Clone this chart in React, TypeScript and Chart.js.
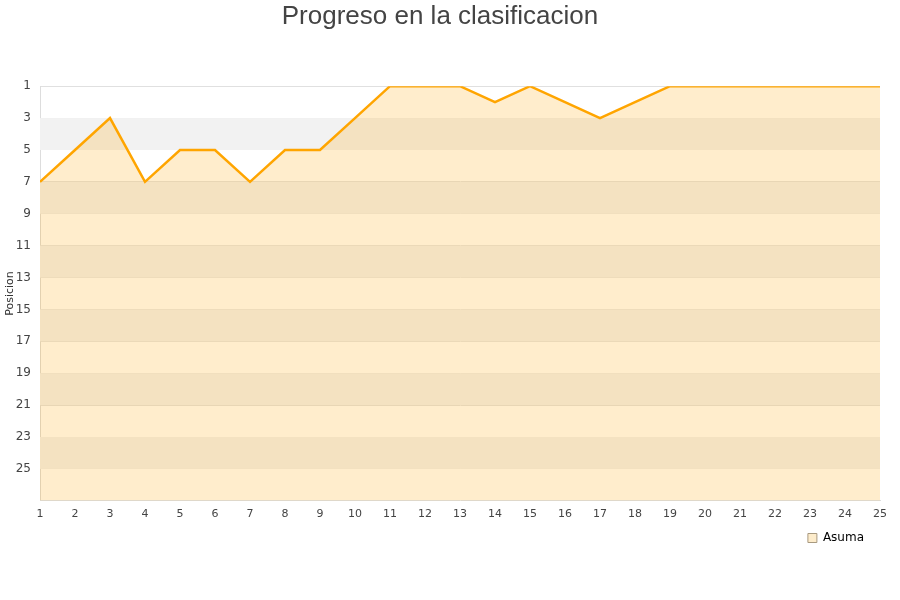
import React, { useEffect, useRef } from "react";
import { Chart, registerables } from "chart.js";

Chart.register(...registerables);

const rounds = [1, 2, 3, 4, 5, 6, 7, 8, 9, 10, 11, 12, 13, 14, 15, 16, 17, 18, 19, 20, 21, 22, 23, 24, 25];
const positions = [7, 5, 3, 7, 5, 5, 7, 5, 5, 3, 1, 1, 1, 2, 1, 2, 3, 2, 1, 1, 1, 1, 1, 1, 1];
const yMin = 1;
const yMax = 27;
const yTicks = [1, 3, 5, 7, 9, 11, 13, 15, 17, 19, 21, 23, 25];
const seriesName = "Asuma";
const titleText = "Progreso en la clasificacion";
const yTitle = "Posicion";

const bandPlugin = {
  id: "bands",
  beforeDatasetsDraw(chart: any) {
    const { ctx, chartArea, scales } = chart;
    const y = scales.y;
    ctx.save();
    ctx.fillStyle = "#f2f2f2";
    for (let i = 1; i < yTicks.length; i += 2) {
      const a = y.getPixelForValue(yTicks[i]);
      const b = y.getPixelForValue(yTicks[i + 1] ?? yMax);
      ctx.fillRect(chartArea.left, a, chartArea.right - chartArea.left, b - a);
    }
    ctx.restore();
  },
};

const legendShift = {
  id: "legendShift",
  afterLayout(chart: any) {
    const lg = chart.legend;
    if (lg) {
      lg.left -= 12;
      lg.right -= 12;
    }
  },
};

export default function App() {
  const ref = useRef<HTMLCanvasElement>(null);
  useEffect(() => {
    if (!ref.current) return;
    const chart = new Chart(ref.current, {
      type: "line",
      data: {
        datasets: [
          {
            label: seriesName,
            data: rounds.map((r, i) => ({ x: r, y: positions[i] })),
            borderColor: "#ffa500",
            backgroundColor: "rgba(255,165,0,0.2)",
            borderWidth: 2.5,
            pointRadius: 0,
            tension: 0,
            fill: "start",
          },
        ],
      },
      plugins: [bandPlugin, legendShift],
      options: {
        animation: false,
        responsive: true,
        maintainAspectRatio: false,
        events: [],
        layout: { padding: { left: 0, right: 20, top: 0, bottom: 46 } },
        plugins: {
          title: {
            display: true,
            text: titleText,
            color: "#444",
            font: { family: "Liberation Sans", size: 26, weight: "normal" },
            padding: { top: 1, bottom: 54 },
          },
          legend: {
            position: "bottom",
            align: "end",
            labels: {
              boxWidth: 9,
              boxHeight: 9,
              padding: 4,
              color: "#111",
              font: { family: "DejaVu Sans", size: 12 },
              generateLabels: () => [
                {
                  text: seriesName,
                  fillStyle: "#fdeccb",
                  strokeStyle: "#a89a80",
                  lineWidth: 1,
                  datasetIndex: 0,
                },
              ],
            },
          },
          tooltip: { enabled: false },
        },
        scales: {
          x: {
            type: "linear",
            min: 1,
            max: 25,
            grid: { display: false, drawTicks: false },
            border: { color: "#ddd" },
            ticks: {
              stepSize: 1,
              color: "#444",
              padding: 7,
              font: { family: "DejaVu Sans", size: 11 },
            },
          },
          y: {
            reverse: true,
            min: yMin,
            max: yMax,
            afterBuildTicks: (s: any) => {
              s.ticks = yTicks.map((v) => ({ value: v }));
            },
            afterFit: (s: any) => {
              s.width = 40;
            },
            grid: { color: "#e0e0e0", drawTicks: false },
            border: { color: "#ddd" },
            ticks: {
              color: "#444",
              padding: 9,
              font: { family: "DejaVu Sans", size: 12 },
            },
            title: {
              display: true,
              text: yTitle,
              color: "#333",
              font: { family: "DejaVu Sans", size: 11 },
              padding: { top: 4, bottom: 0 },
            },
          },
        },
      },
    });
    return () => chart.destroy();
  }, []);
  return (
    <div style={{ position: "absolute", left: 0, top: 0, width: 900, height: 600 }}>
      <canvas ref={ref} />
    </div>
  );
}
